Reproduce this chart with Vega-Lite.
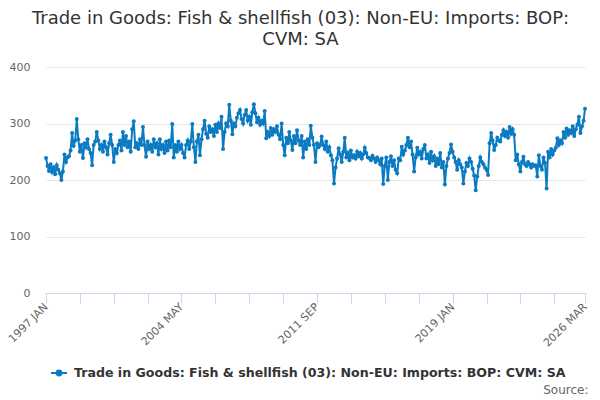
{
  "$schema": "https://vega.github.io/schema/vega-lite/v6.json",
  "width": 539,
  "height": 226,
  "autosize": "none",
  "padding": {"left": 46, "top": 67, "right": 15, "bottom": 107},
  "background": "white",
  "config": {"font": "DejaVu Sans", "view": {"stroke": null}},
  "title": {
    "text": ["Trade in Goods: Fish & shellfish (03): Non-EU: Imports: BOP:", "CVM: SA"],
    "fontSize": 18,
    "fontWeight": "normal",
    "color": "#333333",
    "anchor": "middle",
    "dx": -15,
    "offset": 12,
    "lineHeight": 21
  },
  "data": {
    "values": [
      {"t":"1997-01","v":239},{"t":"1997-02","v":225},{"t":"1997-03","v":216},{"t":"1997-04","v":228},{"t":"1997-05","v":214},{"t":"1997-06","v":222},{"t":"1997-07","v":210},{"t":"1997-08","v":226},{"t":"1997-09","v":218},{"t":"1997-10","v":212},{"t":"1997-11","v":200},{"t":"1997-12","v":215},
      {"t":"1998-01","v":245},{"t":"1998-02","v":232},{"t":"1998-03","v":240},{"t":"1998-04","v":242},{"t":"1998-05","v":252},{"t":"1998-06","v":283},{"t":"1998-07","v":260},{"t":"1998-08","v":270},{"t":"1998-09","v":308},{"t":"1998-10","v":272},{"t":"1998-11","v":250},{"t":"1998-12","v":262},
      {"t":"1999-01","v":239},{"t":"1999-02","v":265},{"t":"1999-03","v":258},{"t":"1999-04","v":272},{"t":"1999-05","v":255},{"t":"1999-06","v":248},{"t":"1999-07","v":226},{"t":"1999-08","v":262},{"t":"1999-09","v":268},{"t":"1999-10","v":285},{"t":"1999-11","v":270},{"t":"1999-12","v":255},
      {"t":"2000-01","v":262},{"t":"2000-02","v":250},{"t":"2000-03","v":268},{"t":"2000-04","v":258},{"t":"2000-05","v":245},{"t":"2000-06","v":265},{"t":"2000-07","v":280},{"t":"2000-08","v":262},{"t":"2000-09","v":232},{"t":"2000-10","v":255},{"t":"2000-11","v":248},{"t":"2000-12","v":262},
      {"t":"2001-01","v":270},{"t":"2001-02","v":252},{"t":"2001-03","v":285},{"t":"2001-04","v":262},{"t":"2001-05","v":278},{"t":"2001-06","v":258},{"t":"2001-07","v":268},{"t":"2001-08","v":250},{"t":"2001-09","v":290},{"t":"2001-10","v":304},{"t":"2001-11","v":258},{"t":"2001-12","v":265},
      {"t":"2002-01","v":255},{"t":"2002-02","v":272},{"t":"2002-03","v":262},{"t":"2002-04","v":294},{"t":"2002-05","v":262},{"t":"2002-06","v":241},{"t":"2002-07","v":268},{"t":"2002-08","v":255},{"t":"2002-09","v":262},{"t":"2002-10","v":250},{"t":"2002-11","v":272},{"t":"2002-12","v":258},
      {"t":"2003-01","v":265},{"t":"2003-02","v":245},{"t":"2003-03","v":272},{"t":"2003-04","v":255},{"t":"2003-05","v":262},{"t":"2003-06","v":248},{"t":"2003-07","v":268},{"t":"2003-08","v":252},{"t":"2003-09","v":270},{"t":"2003-10","v":258},{"t":"2003-11","v":299},{"t":"2003-12","v":240},
      {"t":"2004-01","v":262},{"t":"2004-02","v":250},{"t":"2004-03","v":268},{"t":"2004-04","v":255},{"t":"2004-05","v":262},{"t":"2004-06","v":248},{"t":"2004-07","v":240},{"t":"2004-08","v":262},{"t":"2004-09","v":270},{"t":"2004-10","v":255},{"t":"2004-11","v":268},{"t":"2004-12","v":299},
      {"t":"2005-01","v":258},{"t":"2005-02","v":232},{"t":"2005-03","v":268},{"t":"2005-04","v":280},{"t":"2005-05","v":244},{"t":"2005-06","v":272},{"t":"2005-07","v":290},{"t":"2005-08","v":305},{"t":"2005-09","v":282},{"t":"2005-10","v":275},{"t":"2005-11","v":295},{"t":"2005-12","v":285},
      {"t":"2006-01","v":290},{"t":"2006-02","v":278},{"t":"2006-03","v":298},{"t":"2006-04","v":285},{"t":"2006-05","v":300},{"t":"2006-06","v":292},{"t":"2006-07","v":312},{"t":"2006-08","v":255},{"t":"2006-09","v":285},{"t":"2006-10","v":300},{"t":"2006-11","v":295},{"t":"2006-12","v":333},
      {"t":"2007-01","v":305},{"t":"2007-02","v":281},{"t":"2007-03","v":300},{"t":"2007-04","v":295},{"t":"2007-05","v":310},{"t":"2007-06","v":318},{"t":"2007-07","v":324},{"t":"2007-08","v":308},{"t":"2007-09","v":300},{"t":"2007-10","v":315},{"t":"2007-11","v":324},{"t":"2007-12","v":305},
      {"t":"2008-01","v":312},{"t":"2008-02","v":298},{"t":"2008-03","v":320},{"t":"2008-04","v":334},{"t":"2008-05","v":318},{"t":"2008-06","v":302},{"t":"2008-07","v":310},{"t":"2008-08","v":298},{"t":"2008-09","v":305},{"t":"2008-10","v":300},{"t":"2008-11","v":322},{"t":"2008-12","v":274},
      {"t":"2009-01","v":285},{"t":"2009-02","v":278},{"t":"2009-03","v":292},{"t":"2009-04","v":280},{"t":"2009-05","v":290},{"t":"2009-06","v":285},{"t":"2009-07","v":295},{"t":"2009-08","v":280},{"t":"2009-09","v":272},{"t":"2009-10","v":300},{"t":"2009-11","v":262},{"t":"2009-12","v":244},
      {"t":"2010-01","v":275},{"t":"2010-02","v":265},{"t":"2010-03","v":285},{"t":"2010-04","v":270},{"t":"2010-05","v":253},{"t":"2010-06","v":278},{"t":"2010-07","v":265},{"t":"2010-08","v":288},{"t":"2010-09","v":270},{"t":"2010-10","v":262},{"t":"2010-11","v":278},{"t":"2010-12","v":240},
      {"t":"2011-01","v":268},{"t":"2011-02","v":255},{"t":"2011-03","v":272},{"t":"2011-04","v":262},{"t":"2011-05","v":296},{"t":"2011-06","v":275},{"t":"2011-07","v":262},{"t":"2011-08","v":232},{"t":"2011-09","v":265},{"t":"2011-10","v":258},{"t":"2011-11","v":262},{"t":"2011-12","v":277},
      {"t":"2012-01","v":262},{"t":"2012-02","v":255},{"t":"2012-03","v":268},{"t":"2012-04","v":250},{"t":"2012-05","v":258},{"t":"2012-06","v":244},{"t":"2012-07","v":235},{"t":"2012-08","v":194},{"t":"2012-09","v":222},{"t":"2012-10","v":238},{"t":"2012-11","v":256},{"t":"2012-12","v":245},
      {"t":"2013-01","v":232},{"t":"2013-02","v":250},{"t":"2013-03","v":275},{"t":"2013-04","v":240},{"t":"2013-05","v":248},{"t":"2013-06","v":235},{"t":"2013-07","v":252},{"t":"2013-08","v":240},{"t":"2013-09","v":244},{"t":"2013-10","v":238},{"t":"2013-11","v":250},{"t":"2013-12","v":242},
      {"t":"2014-01","v":248},{"t":"2014-02","v":238},{"t":"2014-03","v":245},{"t":"2014-04","v":257},{"t":"2014-05","v":248},{"t":"2014-06","v":240},{"t":"2014-07","v":239},{"t":"2014-08","v":235},{"t":"2014-09","v":243},{"t":"2014-10","v":238},{"t":"2014-11","v":232},{"t":"2014-12","v":240},
      {"t":"2015-01","v":235},{"t":"2015-02","v":228},{"t":"2015-03","v":238},{"t":"2015-04","v":193},{"t":"2015-05","v":225},{"t":"2015-06","v":240},{"t":"2015-07","v":200},{"t":"2015-08","v":232},{"t":"2015-09","v":242},{"t":"2015-10","v":225},{"t":"2015-11","v":235},{"t":"2015-12","v":218},
      {"t":"2016-01","v":212},{"t":"2016-02","v":238},{"t":"2016-03","v":235},{"t":"2016-04","v":259},{"t":"2016-05","v":245},{"t":"2016-06","v":252},{"t":"2016-07","v":262},{"t":"2016-08","v":275},{"t":"2016-09","v":258},{"t":"2016-10","v":268},{"t":"2016-11","v":245},{"t":"2016-12","v":215},
      {"t":"2017-01","v":240},{"t":"2017-02","v":257},{"t":"2017-03","v":245},{"t":"2017-04","v":250},{"t":"2017-05","v":238},{"t":"2017-06","v":255},{"t":"2017-07","v":262},{"t":"2017-08","v":238},{"t":"2017-09","v":245},{"t":"2017-10","v":230},{"t":"2017-11","v":250},{"t":"2017-12","v":235},
      {"t":"2018-01","v":242},{"t":"2018-02","v":225},{"t":"2018-03","v":238},{"t":"2018-04","v":228},{"t":"2018-05","v":248},{"t":"2018-06","v":222},{"t":"2018-07","v":232},{"t":"2018-08","v":192},{"t":"2018-09","v":225},{"t":"2018-10","v":238},{"t":"2018-11","v":248},{"t":"2018-12","v":263},
      {"t":"2019-01","v":250},{"t":"2019-02","v":240},{"t":"2019-03","v":232},{"t":"2019-04","v":218},{"t":"2019-05","v":235},{"t":"2019-06","v":228},{"t":"2019-07","v":222},{"t":"2019-08","v":194},{"t":"2019-09","v":215},{"t":"2019-10","v":230},{"t":"2019-11","v":225},{"t":"2019-12","v":238},
      {"t":"2020-01","v":232},{"t":"2020-02","v":220},{"t":"2020-03","v":208},{"t":"2020-04","v":182},{"t":"2020-05","v":206},{"t":"2020-06","v":225},{"t":"2020-07","v":240},{"t":"2020-08","v":232},{"t":"2020-09","v":228},{"t":"2020-10","v":222},{"t":"2020-11","v":218},{"t":"2020-12","v":209},
      {"t":"2021-01","v":265},{"t":"2021-02","v":283},{"t":"2021-03","v":270},{"t":"2021-04","v":253},{"t":"2021-05","v":262},{"t":"2021-06","v":275},{"t":"2021-07","v":270},{"t":"2021-08","v":268},{"t":"2021-09","v":280},{"t":"2021-10","v":288},{"t":"2021-11","v":278},{"t":"2021-12","v":285},
      {"t":"2022-01","v":275},{"t":"2022-02","v":294},{"t":"2022-03","v":282},{"t":"2022-04","v":290},{"t":"2022-05","v":280},{"t":"2022-06","v":235},{"t":"2022-07","v":245},{"t":"2022-08","v":228},{"t":"2022-09","v":215},{"t":"2022-10","v":232},{"t":"2022-11","v":241},{"t":"2022-12","v":228},
      {"t":"2023-01","v":225},{"t":"2023-02","v":232},{"t":"2023-03","v":228},{"t":"2023-04","v":222},{"t":"2023-05","v":228},{"t":"2023-06","v":225},{"t":"2023-07","v":226},{"t":"2023-08","v":206},{"t":"2023-09","v":244},{"t":"2023-10","v":225},{"t":"2023-11","v":218},{"t":"2023-12","v":240},
      {"t":"2024-01","v":230},{"t":"2024-02","v":185},{"t":"2024-03","v":250},{"t":"2024-04","v":240},{"t":"2024-05","v":255},{"t":"2024-06","v":245},{"t":"2024-07","v":252},{"t":"2024-08","v":257},{"t":"2024-09","v":274},{"t":"2024-10","v":262},{"t":"2024-11","v":270},{"t":"2024-12","v":265},
      {"t":"2025-01","v":285},{"t":"2025-02","v":275},{"t":"2025-03","v":291},{"t":"2025-04","v":280},{"t":"2025-05","v":288},{"t":"2025-06","v":283},{"t":"2025-07","v":295},{"t":"2025-08","v":278},{"t":"2025-09","v":290},{"t":"2025-10","v":298},{"t":"2025-11","v":312},{"t":"2025-12","v":283},
      {"t":"2026-01","v":295},{"t":"2026-02","v":305},{"t":"2026-03","v":326}
    ]
  },
  "encoding": {
    "x": {
      "field": "t",
      "type": "temporal",
      "scale": {"type": "utc", "domain": [{"year": 1997, "month": 1, "utc": true}, {"year": 2026, "month": 3, "utc": true}], "nice": false},
      "axis": {
        "title": "Source:",
        "titleColor": "#666666",
        "titleFontSize": 12,
        "titleFontWeight": "normal",
        "titleAnchor": "end",
        "titleAlign": "right",
        "titleBaseline": "alphabetic",
        "titleX": 542,
        "titleY": 100,
        "values": [
          {"year": 1997, "month": 1, "utc": true}, {"year": 1998, "month": 11, "utc": true}, {"year": 2000, "month": 9, "utc": true},
          {"year": 2002, "month": 7, "utc": true}, {"year": 2004, "month": 5, "utc": true}, {"year": 2006, "month": 3, "utc": true},
          {"year": 2008, "month": 1, "utc": true}, {"year": 2009, "month": 11, "utc": true}, {"year": 2011, "month": 9, "utc": true},
          {"year": 2013, "month": 7, "utc": true}, {"year": 2015, "month": 5, "utc": true}, {"year": 2017, "month": 3, "utc": true},
          {"year": 2019, "month": 1, "utc": true}, {"year": 2020, "month": 11, "utc": true}, {"year": 2022, "month": 9, "utc": true},
          {"year": 2024, "month": 7, "utc": true}, {"year": 2026, "month": 3, "utc": true}
        ],
        "labelExpr": "indexof(['1997 JAN','2004 MAY','2011 SEP','2019 JAN','2026 MAR'], upper(utcFormat(datum.value, '%Y %b'))) >= 0 ? upper(utcFormat(datum.value, '%Y %b')) : ''",
        "labelOverlap": false,
        "labelAngle": -45,
        "labelAlign": "right",
        "labelBaseline": "middle",
        "labelColor": "#666666",
        "labelFontSize": 11,
        "labelPadding": 2,
        "labelFlush": false,
        "grid": false,
        "domainColor": "#ccd6eb",
        "tickColor": "#ccd6eb",
        "tickSize": 10
      }
    },
    "y": {
      "field": "v",
      "type": "quantitative",
      "scale": {"domain": [0, 400], "nice": false},
      "axis": {
        "title": null,
        "values": [0, 100, 200, 300, 400],
        "domain": false,
        "ticks": false,
        "gridColor": "#e6e6e6",
        "labelColor": "#666666",
        "labelFontSize": 11,
        "labelPadding": 16
      }
    },
    "color": {
      "datum": "Trade in Goods: Fish & shellfish (03): Non-EU: Imports: BOP: CVM: SA",
      "type": "nominal",
      "scale": {"range": ["#0b7bc1"]},
      "legend": {
        "title": null,
        "orient": "none",
        "legendX": 4,
        "legendY": 297,
        "symbolType": "M -1 0 L 1 0 M -0.3 0 A 0.3 0.3 0 1 0 0.3 0 A 0.3 0.3 0 1 0 -0.3 0",
        "symbolSize": 256,
        "symbolStrokeWidth": 2,
        "symbolFillColor": "#0b7bc1",
        "symbolStrokeColor": "#0b7bc1",
        "labelFontSize": 12.6,
        "labelFontWeight": "bold",
        "labelColor": "#333333",
        "labelLimit": 600,
        "labelOffset": 6
      }
    }
  },
  "layer": [
    {"mark": {"type": "line", "strokeWidth": 2}},
    {"mark": {"type": "point", "filled": true, "size": 16, "opacity": 1}}
  ]
}
